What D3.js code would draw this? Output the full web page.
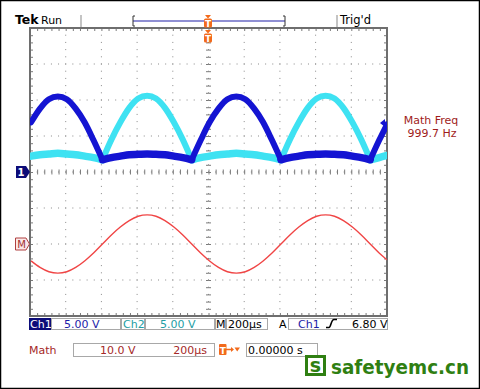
<!DOCTYPE html>
<html>
<head>
<meta charset="utf-8">
<script src="https://cdn.jsdelivr.net/npm/d3@7"></script>
<style>
  body { margin: 0; background: #fff; }
  svg { display: block; }
  text { font-family: "DejaVu Sans", Verdana, sans-serif; }
</style>
</head>
<body>
<div id="chart"></div>
<script>
// sample times in µs (trigger at 0)
const times = [-994, -944, -894, -844, -794, -744, -694, -644, -594, -544, -494, -444, -394, -344,
  -294, -244, -194, -144, -94, -44, 6, 56, 106, 156, 206, 256, 306, 356, 406, 456, 506, 556,
  606, 656, 706, 756, 806, 856, 906, 956, 1000];

// Ch1 volts (5 V/div)
const ch1 = [6.9, 8.8, 10.1, 10.5, 10.1, 8.8, 6.9, 4.4, 1.7,
  2.0, 2.2, 2.4, 2.45, 2.5, 2.45, 2.4, 2.2, 2.0,
  1.7, 4.4, 6.9, 8.8, 10.1, 10.5, 10.1, 8.8, 6.9, 4.4, 1.7,
  2.0, 2.2, 2.4, 2.45, 2.5, 2.45, 2.4, 2.2, 2.0,
  1.7, 4.4, 6.6];

// Ch2 volts (5 V/div)
const ch2 = [2.2, 2.4, 2.5, 2.6, 2.5, 2.4, 2.2, 2.0, 1.7,
  4.5, 6.9, 8.9, 10.2, 10.6, 10.2, 8.9, 6.9, 4.5,
  1.7, 2.0, 2.2, 2.4, 2.5, 2.6, 2.5, 2.4, 2.2, 2.0, 1.7,
  4.5, 6.9, 8.9, 10.2, 10.6, 10.2, 8.9, 6.9, 4.5,
  1.7, 2.0, 2.3];

// Math volts (10 V/div)
const mathV = [-4.7, -6.5, -7.7, -8.1, -7.7, -6.5, -4.7, -2.5, 0,
  2.5, 4.7, 6.5, 7.7, 8.1, 7.7, 6.5, 4.7, 2.5,
  0, -2.5, -4.7, -6.5, -7.7, -8.1, -7.7, -6.5, -4.7, -2.5, 0,
  2.5, 4.7, 6.5, 7.7, 8.1, 7.7, 6.5, 4.7, 2.5,
  0, -2.5, -4.4];

const trigLevel = 6.80;

const svg = d3.select("#chart").append("svg")
    .attr("width", 480)
    .attr("height", 389);

svg.append("rect").attr("width", 480).attr("height", 389).attr("fill", "#fff");
svg.append("rect").attr("x", 0.5).attr("y", 0.5).attr("width", 479).attr("height", 388)
    .attr("fill", "none").attr("stroke", "#000").attr("stroke-width", 1.5);

// Scales: 10 div x 200µs, 8 div x 5V (Ch1/Ch2), Math ground 2 div below center at 10V/div
const x = d3.scaleLinear().domain([-1000, 1000]).range([30, 387]);
const y = d3.scaleLinear().domain([-20, 20]).range([316, 28]);
const yM = d3.scaleLinear().domain([-20, 60]).range([316, 28]);

const minorT = d3.range(-1000, 1000.1, 40);
const majorT = d3.range(-800, 801, 200);
const minorV = d3.range(-20, 20.1, 1);
const majorV = d3.range(-15, 16, 5);

// Graticule dots
const grid = svg.append("g").attr("fill", "#8a8a8a");
majorT.forEach(t => {
    grid.selectAll(null).data(minorV).enter().append("rect")
        .attr("x", x(t) - 0.5).attr("y", d => y(d) - 0.5)
        .attr("width", 1).attr("height", 1);
});
majorV.forEach(v => {
    grid.selectAll(null).data(minorT).enter().append("rect")
        .attr("x", d => x(d) - 0.5).attr("y", y(v) - 0.5)
        .attr("width", 1).attr("height", 1);
});

// Tick marks on border and centre lines
function tickAxis(axis, tx, ty) {
    const g = svg.append("g").attr("transform", `translate(${tx},${ty})`).call(axis);
    g.select(".domain").remove();
    g.selectAll("line").attr("stroke", "#7a7a7a");
    g.selectAll("text").remove();
}
tickAxis(d3.axisBottom(x).tickValues(minorT).tickSize(3).tickFormat(""), 0, 28);
tickAxis(d3.axisTop(x).tickValues(minorT).tickSize(3).tickFormat(""), 0, 316);
tickAxis(d3.axisRight(y).tickValues(minorV).tickSize(3).tickFormat(""), 30, 0);
tickAxis(d3.axisLeft(y).tickValues(minorV).tickSize(3).tickFormat(""), 387, 0);
tickAxis(d3.axisBottom(x).tickValues(minorT).tickSize(2.5).tickFormat(""), 0, y(0));
tickAxis(d3.axisTop(x).tickValues(minorT).tickSize(2.5).tickFormat(""), 0, y(0));
tickAxis(d3.axisRight(y).tickValues(minorV).tickSize(2.5).tickFormat(""), x(0), 0);
tickAxis(d3.axisLeft(y).tickValues(minorV).tickSize(2.5).tickFormat(""), x(0), 0);

svg.append("rect").attr("x", 30).attr("y", 28).attr("width", 357).attr("height", 288)
    .attr("fill", "none").attr("stroke", "#6e6e6e").attr("stroke-width", 2);

// Traces
svg.append("clipPath").attr("id", "plot").append("rect")
    .attr("x", 30).attr("y", 28).attr("width", 357).attr("height", 288);
const traces = svg.append("g").attr("clip-path", "url(#plot)");

// split a channel at its rectifier troughs so the corners stay sharp
function pieces(vals) {
    const pts = times.map((t, i) => [t, vals[i]]);
    const out = [];
    let cur = [pts[0]];
    for (let i = 1; i < pts.length; i++) {
        cur.push(pts[i]);
        if (i < pts.length - 1 && vals[i] < vals[i - 1] && vals[i] < vals[i + 1]) {
            out.push(cur);
            cur = [pts[i]];
        }
    }
    out.push(cur);
    return out;
}

const line = d3.line().x(d => x(d[0])).y(d => y(d[1])).curve(d3.curveMonotoneX);

function drawChannel(vals, color) {
    traces.selectAll(null).data(pieces(vals)).enter().append("path")
        .attr("d", line)
        .attr("fill", "none")
        .attr("stroke", color)
        .attr("stroke-width", d => d3.max(d, p => p[1]) < 5 ? 7.5 : 6)
        .attr("stroke-linecap", "round")
        .attr("stroke-linejoin", "round");
}
drawChannel(ch2, "#3ee2f2");
drawChannel(ch1, "#1414d2");

traces.append("path")
    .datum(times.map((t, i) => [t, mathV[i]]))
    .attr("d", d3.line().x(d => x(d[0])).y(d => yM(d[1])).curve(d3.curveMonotoneX))
    .attr("fill", "none")
    .attr("stroke", "#f04545")
    .attr("stroke-width", 1.4);

// Ch1 trigger level marker
const ty = y(trigLevel);
svg.append("path")
    .attr("d", `M380,${ty} L385,${ty - 4} L385,${ty + 4} Z`)
    .attr("fill", "#1414d2");

// Ground markers
const g1 = y(0);
svg.append("path")
    .attr("d", `M16,${g1 - 6} L26,${g1 - 6} L30,${g1} L26,${g1 + 6} L16,${g1 + 6} Z`)
    .attr("fill", "#0c0c78");
svg.append("text").attr("x", 21).attr("y", g1 + 4).attr("text-anchor", "middle")
    .attr("fill", "#fff").attr("font-size", 10).attr("font-weight", "bold").text("1");

const gm = yM(0);
svg.append("path")
    .attr("d", `M15.5,${gm - 6} L26,${gm - 6} L29.5,${gm} L26,${gm + 6} L15.5,${gm + 6} Z`)
    .attr("fill", "#fbe8e8").attr("stroke", "#b04040");
svg.append("text").attr("x", 21.5).attr("y", gm + 4).attr("text-anchor", "middle")
    .attr("fill", "#a03030").attr("font-size", 10).text("M");

// Top status line
svg.append("text").attr("x", 15).attr("y", 24).attr("font-size", 12.5)
    .attr("font-weight", "bold").text("Tek");
svg.append("text").attr("x", 41).attr("y", 24).attr("font-size", 11).text("Run");
svg.append("text").attr("x", 340).attr("y", 24).attr("font-size", 11.5).text("Trig'd");
[81, 337].forEach(sx => svg.append("line")
    .attr("x1", sx).attr("x2", sx).attr("y1", 15).attr("y2", 27)
    .attr("stroke", "#b0b0b0").attr("stroke-width", 1.5));

const rec = svg.append("g").attr("stroke", "#6a6ac4").attr("fill", "none").attr("stroke-width", 1.5);
rec.append("line").attr("x1", 133).attr("x2", 285).attr("y1", 21).attr("y2", 21);
rec.append("path").attr("d", "M135,16 L133,16 L133,26 L135,26").attr("stroke", "#333").attr("stroke-width", 1);
rec.append("path").attr("d", "M283,16 L285,16 L285,26 L283,26").attr("stroke", "#333").attr("stroke-width", 1);

const orange = "#f26a1b";
function trigIcon(cx, top) {
    svg.append("path").attr("d", `M${cx - 3},${top} L${cx + 3},${top} L${cx},${top + 3.5} Z`).attr("fill", orange);
    svg.append("rect").attr("x", cx - 4).attr("y", top + 3.5).attr("width", 8).attr("height", 9)
        .attr("rx", 1.5).attr("fill", orange);
    svg.append("text").attr("x", cx).attr("y", top + 11.5).attr("text-anchor", "middle")
        .attr("fill", "#fff").attr("font-size", 9).attr("font-weight", "bold").text("T");
}
trigIcon(x(0) - 0.5, 15);
trigIcon(x(0) - 0.5, 30);

// Math frequency readout
svg.append("text").attr("x", 431).attr("y", 124).attr("text-anchor", "middle")
    .attr("font-size", 11).attr("fill", "#a01c1c").text("Math Freq");
svg.append("text").attr("x", 432).attr("y", 137).attr("text-anchor", "middle")
    .attr("font-size", 11).attr("fill", "#a01c1c").text("999.7 Hz");

// Bottom readouts
const navy = "#0c0c78", blue = "#1c1ca8", teal = "#1e9ea4", dred = "#a52828";
function box(x0, x1, y0, y1, fill) {
    svg.append("rect").attr("x", x0 + 0.5).attr("y", y0 + 0.5).attr("width", x1 - x0 - 1)
        .attr("height", y1 - y0 - 1).attr("fill", fill || "#fff").attr("stroke", "#a8a8a8");
}
function label(tx, ty, s, color, anchor) {
    svg.append("text").attr("x", tx).attr("y", ty).attr("font-size", 11)
        .attr("fill", color).attr("text-anchor", anchor || "start").text(s);
}
svg.append("rect").attr("x", 29).attr("y", 318).attr("width", 22).attr("height", 12).attr("fill", navy);
label(30, 328, "Ch1", "#fff");
box(51, 121, 318, 330);
label(64, 328, "5.00 V", blue);
box(121, 145, 318, 330);
label(123, 328, "Ch2", teal);
box(145, 215, 318, 330);
label(160, 328, "5.00 V", teal);
box(215, 226, 318, 330);
label(216, 328, "M", "#000");
box(226, 268, 318, 330);
label(228, 328, "200µs", "#000");
label(279, 328, "A", "#000");
box(288, 388, 318, 330);
label(298, 328, "Ch1", blue);
svg.append("path").attr("d", "M326,327.5 L329,327.5 C331,327.5 331,319.5 334,319.5 L337,319.5")
    .attr("fill", "none").attr("stroke", "#000").attr("stroke-width", 1.6);
label(352, 328, "6.80 V", "#000");

label(29, 354, "Math", dred);
box(73, 215, 343, 357);
label(100, 354, "10.0 V", dred);
label(207, 354, "200µs", dred, "end");
svg.append("rect").attr("x", 219).attr("y", 344).attr("width", 7.5).attr("height", 11)
    .attr("rx", 1).attr("fill", orange);
svg.append("text").attr("x", 222.7).attr("y", 353.5).attr("text-anchor", "middle")
    .attr("fill", "#fff").attr("font-size", 9).attr("font-weight", "bold").text("T");
svg.append("path").attr("d", "M226,349.5 L232,349.5").attr("stroke", orange).attr("stroke-width", 1.5);
svg.append("path").attr("d", "M231,347 L234,349.5 L231,352 Z M234.5,347.5 L240,347.5 L237.2,351.5 Z").attr("fill", orange);
box(246, 318, 343, 357);
label(248, 354, "0.00000 s", "#000");

// Watermark
const green = "#2f7f12";
svg.append("rect").attr("x", 306.5).attr("y", 356.5).attr("width", 18).attr("height", 18)
    .attr("fill", "#fff").attr("stroke", green).attr("stroke-width", 3);
svg.append("text").attr("x", 315.5).attr("y", 372).attr("text-anchor", "middle")
    .attr("font-family", "'Liberation Sans', Arial, sans-serif").attr("font-weight", "bold")
    .attr("font-size", 19).attr("fill", green).text("s");
svg.append("text").attr("x", 331).attr("y", 373.5)
    .attr("font-family", "'Liberation Sans', Arial, sans-serif").attr("font-weight", "bold")
    .attr("font-size", 20).attr("textLength", 138).attr("lengthAdjust", "spacingAndGlyphs")
    .attr("fill", green).text("safetyemc.cn");
</script>
</body>
</html>
